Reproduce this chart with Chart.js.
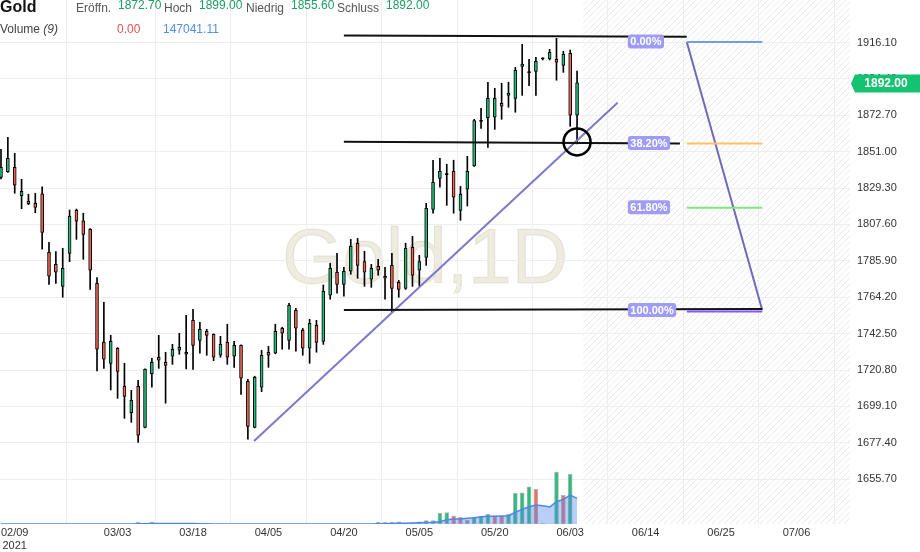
<!DOCTYPE html>
<html>
<head>
<meta charset="utf-8">
<script src="https://cdn.jsdelivr.net/npm/chart.js@4.4.0/dist/chart.umd.min.js"></script>
<style>
  html, body { margin: 0; padding: 0; background: #fff; }
  #wrap { position: relative; width: 920px; height: 552px; overflow: hidden; }
  #chart { position: absolute; left: 0; top: 0; }
  .hd { position: absolute; font: 12px 'Liberation Sans', Arial, sans-serif; line-height: 14px; white-space: nowrap; color: #555; }
  .num { color: #1f9d63; top: -2px; }
  .lbl { top: 1px; }
</style>
</head>
<body>
<div id="wrap">
  <canvas id="chart" width="920" height="552"></canvas>
  <div class="hd" style="left:0;top:-2px;font-weight:bold;font-size:16px;line-height:18px;color:#111">Gold</div>
  <div class="hd lbl" style="left:76px">Eröffn.</div>
  <div class="hd num" id="hOpen" style="left:118px"></div>
  <div class="hd lbl" style="left:164px">Hoch</div>
  <div class="hd num" id="hHigh" style="left:199px"></div>
  <div class="hd lbl" style="left:246px">Niedrig</div>
  <div class="hd num" id="hLow" style="left:291px"></div>
  <div class="hd lbl" style="left:337px">Schluss</div>
  <div class="hd num" id="hClose" style="left:386px"></div>
  <div class="hd" style="left:0;top:22px;color:#444">Volume <i>(9)</i></div>
  <div class="hd" id="hVol" style="left:117px;top:22px;color:#e0534b"></div>
  <div class="hd" id="hMa" style="left:163px;top:22px;color:#4f8ef0"></div>
</div>
<script>
// daily candles, one per bar index (0 = first visible bar)
const opens = [1835.7,1839.1,1841.7,1824.7,1821.6,1820.2,1825.8,1791.0,1783.8,1770.7,
  1790.4,1816.0,1809.7,1804.7,1772.5,1737.5,1724.8,1733.8,1711.1,1695.3,
  1711.1,1686.6,1718.6,1728.4,1725.4,1729.0,1732.6,1731.4,1750.4,1738.5,
  1743.9,1742.1,1729.6,1737.3,1729.0,1735.5,1714.1,1686.6,1710.5,1731.4,
  1730.8,1745.7,1738.5,1756.4,1744.5,1733.8,1747.5,1737.9,1765.4,1779.1,
  1771.9,1779.7,1796.4,1785.4,1774.9,1782.6,1776.7,1783.2,1773.1,1769.5,
  1794.0,1780.3,1788.0,1816.6,1835.1,1837.3,1839.3,1816.0,1828.6,1842.5,
  1869.1,1871.3,1871.5,1879.8,1884.6,1882.8,1901.9,1898.1,1898.9,1906.3,
  1906.3,1906.1,1902.5,1909.7,1872.7];
const highs = [1852.4,1859.6,1850.0,1834.5,1825.6,1826.2,1830.1,1797.0,1791.4,1793.4,
  1816.2,1816.8,1814.3,1805.2,1775.9,1761.2,1741.5,1734.2,1724.8,1708.7,
  1714.7,1721.5,1727.8,1741.5,1731.4,1736.1,1742.7,1753.4,1757.0,1749.3,
  1745.1,1742.4,1740.9,1748.1,1737.9,1735.8,1715.3,1717.1,1732.6,1734.9,
  1748.1,1746.3,1760.6,1757.6,1745.7,1751.0,1750.4,1771.5,1784.4,1790.4,
  1782.1,1798.7,1799.3,1791.6,1783.8,1786.8,1782.1,1790.4,1774.3,1796.4,
  1800.5,1789.2,1820.2,1845.9,1847.0,1843.5,1845.9,1830.3,1848.2,1870.3,
  1876.9,1892.4,1888.8,1891.8,1892.4,1901.3,1915.0,1906.1,1907.3,1907.0,
  1912.0,1918.6,1910.9,1911.6,1899.0];
const lows = [1834.7,1838.6,1826.2,1817.0,1819.4,1814.6,1792.8,1771.9,1772.5,1764.2,
  1785.4,1798.7,1786.8,1768.9,1720.2,1721.8,1708.9,1703.9,1692.0,1689.6,
  1677.7,1686.3,1710.5,1721.8,1701.0,1724.2,1730.2,1721.4,1721.2,1730.8,
  1729.6,1726.4,1728.4,1724.2,1722.4,1706.3,1679.5,1686.3,1707.9,1722.4,
  1730.5,1733.2,1733.2,1732.0,1729.6,1724.8,1731.4,1736.1,1763.0,1766.6,
  1764.8,1777.9,1775.5,1770.7,1770.1,1777.3,1763.0,1755.6,1764.2,1768.9,
  1770.7,1770.7,1783.2,1814.3,1829.8,1819.0,1814.3,1810.1,1818.6,1842.2,
  1864.9,1853.6,1864.3,1870.3,1877.5,1874.5,1884.6,1890.3,1884.6,1905.7,
  1905.7,1893.6,1898.3,1866.1,1855.6];
const closes = [1841.7,1847.0,1831.0,1827.4,1820.0,1817.8,1802.9,1776.7,1779.1,1781.5,
  1812.5,1809.5,1801.7,1780.3,1733.2,1727.2,1737.9,1720.0,1705.1,1702.7,
  1681.9,1721.2,1725.4,1726.6,1723.6,1733.2,1734.4,1730.2,1735.5,1745.1,
  1741.5,1728.4,1736.1,1728.4,1735.5,1715.9,1687.2,1716.5,1729.6,1729.6,
  1743.9,1742.7,1759.4,1745.7,1733.8,1748.7,1737.3,1767.7,1781.5,1771.9,
  1779.7,1794.6,1783.2,1779.1,1781.5,1780.3,1775.5,1769.5,1768.9,1793.4,
  1777.3,1785.4,1817.2,1832.7,1839.3,1837.3,1823.8,1825.6,1839.3,1869.5,
  1869.1,1882.8,1882.8,1878.1,1886.0,1899.5,1903.3,1898.1,1904.9,1906.3,
  1910.3,1904.3,1909.1,1872.7,1892.0];

// volume per bar, 1 = up colour, 0 = down colour, and the 9-bar average line
const volumes = [0,0,0,0,0,0,0,0,0,0, 0,0,0,0,0,0,0,0,0,0,
  11000,0,11000,0,0,0,0,0,0,0, 0,0,0,0,0,0,0,0,0,0,
  0,0,0,0,0,0,0,0,0,0, 0,0,0,0,0,9000,9000,9000,13000,5000,
  5000,13000,19000,19000,61000,65000,47000,38000,23000,38000,
  42000,55000,47000,47000,55000,176000,179000,213000,199000,3000,
  0,297000,164000,284000,0];
const volUp = [1,1,1,1,1,1,1,1,1,1, 1,1,1,1,1,1,1,1,1,1,
  1,1,1,1,1,1,1,1,1,1, 1,1,1,1,1,1,1,1,1,1,
  1,1,1,1,1,1,1,1,1,1, 1,1,1,1,1,1,1,1,1,1,
  1,1,1,1,1,1,0,0,0,1, 1,1,0,0,1,1,1,1,0,1,
  1,1,0,1,1];
const volMa = [0,0,0,0,0,0,0,0,0,0, 0,0,0,0,0,0,0,0,0,0,
  1200,1200,2400,2400,2400,2400,2400,2400,2400,1200,
  1200,0,0,0,0,0,0,0,0,0, 0,0,0,0,0,0,0,0,0,0,
  0,0,0,0,0,1000,2000,3000,4400,5000,
  5600,7000,9100,10100,13000,25000,28600,28600,32600,36000,
  41800,44000,44000,45800,47500,67000,84000,99000,108700,104700,
  97000,127600,141000,166000,147041.11];

// axis ticks
const xTickIdx = [2, 17, 28, 39, 50, 61, 72, 83, 94, 105, 116];
const xTickText = ['02/09', '03/03', '03/18', '04/05', '04/20', '05/05', '05/20', '06/03', '06/14', '06/25', '07/06'];
const yTickVals = [1655.7, 1677.4, 1699.1, 1720.8, 1742.5, 1764.2, 1785.9, 1807.6, 1829.3, 1851.0, 1872.7, 1894.4, 1916.1];

// fibonacci retracement levels (bar index range + price per level)
const fibText = ['0.00%', '38.20%', '61.80%', '100.00%'];
const fibVal = [1916.4, 1855.8, 1817.6, 1755.7];
const fibColors = ['#6c9ff4', '#ffc06a', '#7fe67a', '#8657f3'];
const fibFrom = 100.0, fibTo = 111.0, fibLabelAt = 91.4;

// user drawings: [barFrom, priceFrom, barTo, priceTo]
const blackLines = [[50.0, 1920.2, 100.0, 1919.6], [50.0, 1856.9, 99.0, 1855.8], [50.0, 1756.6, 111.0, 1757.2]];
const trendLine = [36.9, 1678.5, 89.9, 1880.2];
const fibSwing = [100.0, 1916.4, 111.0, 1756.6];
const circleAt = [84.0, 1856.8];
const futureFrom = 84.9;

const UP = '#20c07b', DOWN = '#f26451';
const FONT = "'Liberation Sans', Arial, sans-serif";
const last = opens.length - 1;

document.getElementById('hOpen').textContent = opens[last].toFixed(2);
document.getElementById('hHigh').textContent = highs[last].toFixed(2);
document.getElementById('hLow').textContent = lows[last].toFixed(2);
document.getElementById('hClose').textContent = closes[last].toFixed(2);
document.getElementById('hVol').textContent = volumes[last].toFixed(2);
document.getElementById('hMa').textContent = volMa[last].toFixed(2);

Chart.defaults.font.family = FONT;
Chart.defaults.font.size = 11;
Chart.defaults.color = '#333';

const idx = opens.map((_, i) => i);
const bodyColors = idx.map(i => closes[i] > opens[i] ? UP : (closes[i] < opens[i] ? DOWN : '#000'));

const seg = (s, color, width) => ({
  type: 'line',
  data: [{ x: s[0], y: s[1] }, { x: s[2], y: s[3] }],
  borderColor: color, borderWidth: width, pointRadius: 0, order: 0
});

// earlier entries end up on top
const drawings = [
  ...fibVal.map((v, i) => seg([fibFrom, v, fibTo, v], fibColors[i], 2)),
  ...blackLines.map(s => seg(s, '#111', 2)),
  seg(fibSwing, '#6e6ab8', 2),
  seg(trendLine, '#7c78ca', 2)
];

// background: hatched future area and the watermark
const backdrop = {
  id: 'backdrop',
  beforeDraw(chart) {
    const { ctx, chartArea: a, scales: { x } } = chart;
    const x0 = x.getPixelForValue(futureFrom);
    const tile = document.createElement('canvas');
    tile.width = 6; tile.height = 6;
    const t = tile.getContext('2d');
    t.strokeStyle = '#e9e9e9';
    t.lineWidth = 1;
    t.beginPath();
    t.moveTo(0, 6); t.lineTo(6, 0);
    t.moveTo(-1, 1); t.lineTo(1, -1);
    t.moveTo(5, 7); t.lineTo(7, 5);
    t.stroke();
    ctx.save();
    ctx.fillStyle = ctx.createPattern(tile, 'repeat');
    ctx.fillRect(x0, a.top, a.right - x0, a.bottom - a.top);
    const cx = (a.left + a.right) / 2, by = (a.top + a.bottom) / 2 + 21;
    ctx.font = '78px ' + FONT;
    ctx.textAlign = 'center';
    ctx.textBaseline = 'alphabetic';
    ctx.fillStyle = 'rgba(200,188,150,0.3)';
    ctx.fillText('Gold,1D', cx, by);
    ctx.strokeStyle = 'rgba(180,168,130,0.25)';
    ctx.lineWidth = 1;
    ctx.strokeText('Gold,1D', cx, by);
    ctx.restore();
  }
};

// fib level labels and last price tag
const overlay = {
  id: 'overlay',
  afterDatasetsDraw(chart) {
    const { ctx, chartArea: a, scales: { x, y } } = chart;
    ctx.save();
    ctx.font = 'bold 11px ' + FONT;
    ctx.textBaseline = 'middle';
    const lx = x.getPixelForValue(fibLabelAt);
    fibText.forEach((txt, i) => {
      const py = y.getPixelForValue(fibVal[i]) - (i === 3 ? 1.5 : 0.5);
      const w = ctx.measureText(txt).width + 5;
      ctx.fillStyle = '#9f9cf8';
      ctx.beginPath();
      ctx.roundRect(lx, py - 7, w, 14, 3);
      ctx.fill();
      ctx.fillStyle = '#fff';
      ctx.textAlign = 'left';
      ctx.fillText(txt, lx + 2.5, py + 0.5);
    });

    const py = y.getPixelForValue(closes[last]) + 0.5;
    const tx = a.right + 1;
    ctx.fillStyle = '#14c271';
    ctx.beginPath();
    ctx.moveTo(tx, py);
    ctx.lineTo(tx + 4, py - 9);
    ctx.lineTo(920, py - 9);
    ctx.lineTo(920, py + 9);
    ctx.lineTo(tx + 4, py + 9);
    ctx.closePath();
    ctx.fill();
    ctx.font = 'bold 12px ' + FONT;
    ctx.fillStyle = '#fff';
    ctx.textAlign = 'center';
    ctx.fillText(closes[last].toFixed(2), tx + 35, py + 0.5);
    ctx.restore();
  }
};

new Chart(document.getElementById('chart'), {
  type: 'bar',
  data: {
    datasets: [
      {
        type: 'line', data: [{ x: circleAt[0], y: circleAt[1] }], showLine: false,
        pointRadius: 13.5, pointBorderWidth: 2.5, pointBorderColor: '#000',
        pointBackgroundColor: 'rgba(0,0,0,0)', order: 0
      },
      ...drawings,
      {
        type: 'bar', data: idx.map(i => ({ x: i, y: [opens[i], closes[i]] })),
        backgroundColor: bodyColors, borderColor: '#000', borderWidth: 1, borderSkipped: false,
        barThickness: 3, minBarLength: 1, grouped: false, order: 2
      },
      {
        type: 'bar', data: idx.map(i => ({ x: i, y: [lows[i], highs[i]] })),
        backgroundColor: '#000', borderWidth: 0, barThickness: 1, grouped: false, order: 3
      },
      {
        type: 'line', yAxisID: 'yv', data: idx.map(i => ({ x: i, y: volMa[i] })),
        borderColor: '#4e86ee', borderWidth: 1.5, backgroundColor: 'rgba(80,134,236,0.4)',
        fill: 'origin', pointRadius: 0, order: 4
      },
      {
        type: 'bar', yAxisID: 'yv', data: idx.map(i => ({ x: i, y: volumes[i] || null })),
        backgroundColor: volUp.map(u => u ? '#22c17c' : '#f27060'),
        borderColor: '#b5b5b5', borderWidth: 1, borderSkipped: false,
        barThickness: 4, grouped: false, order: 5
      }
    ]
  },
  options: {
    responsive: false,
    animation: false,
    events: [],
    layout: { padding: 0, autoPadding: false },
    plugins: { legend: { display: false }, tooltip: { enabled: false } },
    scales: {
      x: {
        type: 'linear', min: -0.146, max: 123.8, offset: false,
        grid: { color: c => c.index === 0 ? 'rgba(0,0,0,0)' : '#eeeeee', drawTicks: false },
        border: { display: false },
        ticks: {
          padding: 2, autoSkip: false, maxRotation: 0, color: '#333',
          callback: (v, i) => i === 0 ? [xTickText[0], '2021'] : xTickText[xTickIdx.indexOf(v)]
        },
        afterBuildTicks: s => { s.ticks = xTickIdx.map(v => ({ value: v })); },
        afterFit: s => { s.height = 28; s.paddingLeft = 0; s.paddingRight = 0; }
      },
      y: {
        type: 'linear', position: 'right', min: 1628.98, max: 1941.44,
        grid: { color: '#eeeeee', drawTicks: false },
        border: { display: false },
        ticks: { padding: 7, color: '#333', callback: v => v.toFixed(2) },
        afterBuildTicks: s => { s.ticks = yTickVals.map(v => ({ value: v })); },
        afterFit: s => { s.width = 70; s.paddingTop = 0; s.paddingBottom = 0; }
      },
      yv: { type: 'linear', display: false, min: 0, max: 3000000 }
    }
  },
  plugins: [backdrop, overlay]
});
</script>
</body>
</html>
